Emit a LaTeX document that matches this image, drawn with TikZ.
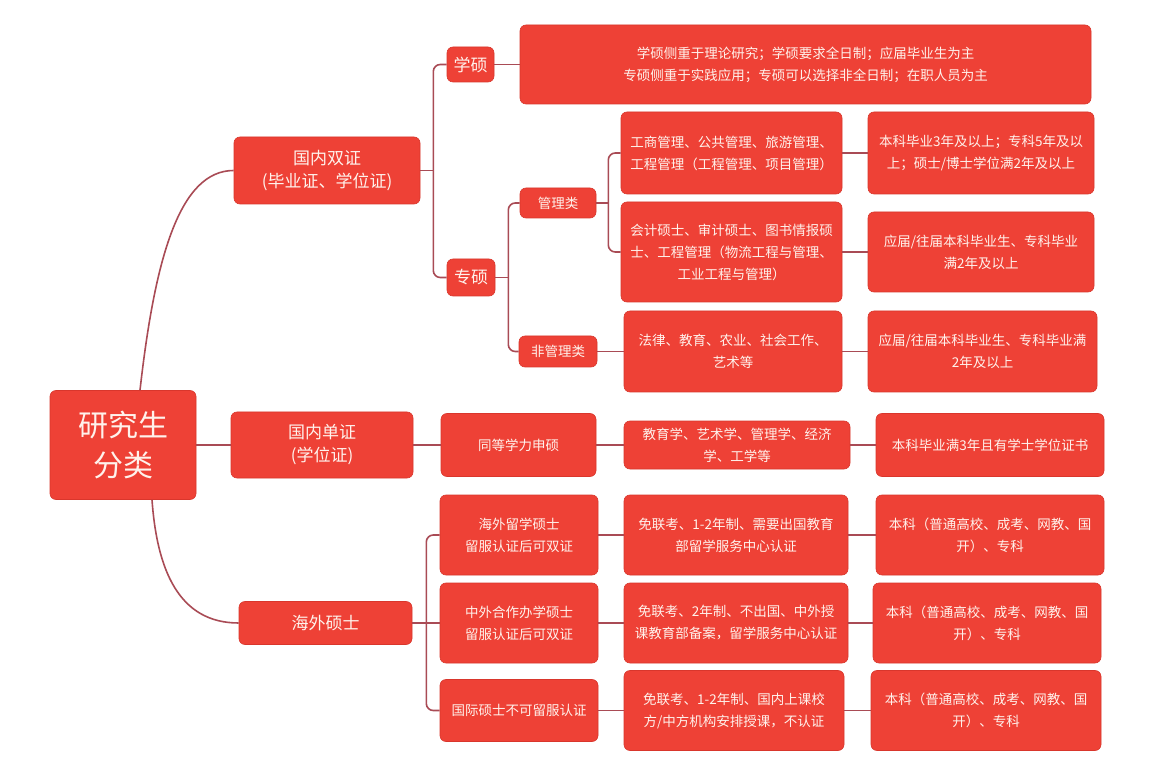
\documentclass[tikz,border=0pt]{standalone}
\usepackage{fontspec}
\newfontfamily\cjk{Noto Sans CJK SC}
\usetikzlibrary{positioning}

\definecolor{boxred}{HTML}{EE4136}
\definecolor{boxedge}{HTML}{D9362C}
\definecolor{linkred}{HTML}{A94B55}
\definecolor{txtwhite}{HTML}{FFF2EC}

\begin{document}
\begin{tikzpicture}[
  x=1pt, y=-1pt,
  font=\cjk\fontsize{13.5}{22}\selectfont,
  box/.style={draw=boxedge, fill=boxred, text=txtwhite, rectangle, rounded corners=6pt, inner sep=0pt, line width=0.6pt, align=center},
  rootbox/.style={box, font=\cjk\fontsize{30}{40}\selectfont, minimum width=146pt, minimum height=109pt},
  mainbox/.style={box, font=\cjk\fontsize{17}{23}\selectfont},
  link/.style={draw=linkred, line width=1.6pt, rounded corners=7pt}
]
  \useasboundingbox[fill=white] (0,0) rectangle (1152,759);

  % Raiz y ramas principales
  \node[rootbox] (root) at (123,445) {研究生\\分类};
  \node[mainbox, minimum width=186pt, minimum height=67pt] (dual) at (327,170.5) {国内双证\\(毕业证、学位证)};
  \node[mainbox, minimum width=182pt, minimum height=66pt] (single) at (322,445) {国内单证\\(学位证)};
  \node[mainbox, minimum width=173pt, minimum height=43pt] (overseas) at (325.5,623) {海外硕士};

  % Rama de doble certificado
  \node[mainbox, minimum width=47pt, minimum height=35pt] (xs) at (470.5,64.5) {学硕};
  \node[mainbox, minimum width=48pt, minimum height=37pt] (zs) at (471,277.5) {专硕};
  \node[box, minimum width=571pt, minimum height=79pt] (xsnote) at (805.5,64.5) {学硕侧重于理论研究；学硕要求全日制；应届毕业生为主\\专硕侧重于实践应用；专硕可以选择非全日制；在职人员为主};
  \node[box, minimum width=76pt, minimum height=30pt] (mgmt) at (558,203) {管理类};
  \node[box, minimum width=78pt, minimum height=31pt] (nonmgmt) at (558,351.5) {非管理类};
  \node[box, minimum width=221pt, minimum height=82pt] (m1) at (731.5,153) {工商管理、公共管理、旅游管理、\\工程管理（工程管理、项目管理）};
  \node[box, minimum width=226pt, minimum height=82pt] (m1r) at (981,153) {本科毕业3年及以上；专科5年及以\\上；硕士/博士学位满2年及以上};
  \node[box, minimum width=221pt, minimum height=100pt] (m2) at (731.5,252) {会计硕士、审计硕士、图书情报硕\\士、工程管理（物流工程与管理、\\工业工程与管理）};
  \node[box, minimum width=226pt, minimum height=80pt] (m2r) at (981,252) {应届/往届本科毕业生、专科毕业\\满2年及以上};
  \node[box, minimum width=218pt, minimum height=81pt] (n1) at (733,351.5) {法律、教育、农业、社会工作、\\艺术等};
  \node[box, minimum width=229pt, minimum height=81pt] (n1r) at (982.5,351.5) {应届/往届本科毕业生、专科毕业满\\2年及以上};

  % Rama de certificado unico
  \node[box, minimum width=155pt, minimum height=63pt] (tdxl) at (518.5,445) {同等学力申硕};
  \node[box, minimum width=226pt, minimum height=48pt] (s1) at (737,445) {教育学、艺术学、管理学、经济\\学、工学等};
  \node[box, minimum width=228pt, minimum height=63pt] (s1r) at (990,445) {本科毕业满3年且有学士学位证书};

  % Rama de maestrias en el extranjero
  \node[box, minimum width=158pt, minimum height=80pt] (o1) at (519,535) {海外留学硕士\\留服认证后可双证};
  \node[box, minimum width=224pt, minimum height=80pt] (o1m) at (736,535) {免联考、1-2年制、需要出国教育\\部留学服务中心认证};
  \node[box, minimum width=228pt, minimum height=80pt] (o1r) at (990,535) {本科（普通高校、成考、网教、国\\开）、专科};
  \node[box, minimum width=158pt, minimum height=80pt] (o2) at (519,623) {中外合作办学硕士\\留服认证后可双证};
  \node[box, minimum width=224pt, minimum height=80pt] (o2m) at (736,623) {免联考、2年制、不出国、中外授\\课教育部备案，留学服务中心认证};
  \node[box, minimum width=228pt, minimum height=80pt] (o2r) at (987,623) {本科（普通高校、成考、网教、国\\开）、专科};
  \node[box, minimum width=158pt, minimum height=62pt] (o3) at (519,710.5) {国际硕士不可留服认证};
  \node[box, minimum width=220pt, minimum height=80pt] (o3m) at (734,710.5) {免联考、1-2年制、国内上课校\\方/中方机构安排授课，不认证};
  \node[box, minimum width=230pt, minimum height=80pt] (o3r) at (986,710.5) {本科（普通高校、成考、网教、国\\开）、专科};

  % Puntos de bifurcacion
  \coordinate (dualfork) at ([xshift=13pt]dual.east);
  \coordinate (zsfork) at ([xshift=13pt]zs.east);
  \coordinate (mgfork) at ([xshift=12pt]mgmt.east);
  \coordinate (osfork) at ([xshift=14pt]overseas.east);

  % Conexiones desde la raiz
  \draw[link] ([xshift=17pt]root.north) .. controls +(15,-133) and +(-54,0) .. (dual.west);
  \draw[link] (root.east) -- (single.west);
  \draw[link] ([xshift=29pt]root.south) .. controls +(5,70) and +(-60,0) .. (overseas.west);

  % Conexiones de la rama doble
  \draw[link] (dual.east) -- (dualfork);
  \draw[link] (xs.west) -| (dualfork) |- (zs.west);
  \draw[link] (xs) -- (xsnote);
  \draw[link] (zs.east) -- (zsfork);
  \draw[link] (mgmt.west) -| (zsfork) |- (nonmgmt.west);
  \draw[link] (mgmt.east) -- (mgfork);
  \draw[link] (m1.west) -| (mgfork) |- (m2.west);
  \draw[link] (m1) -- (m1r);
  \draw[link] (m2) -- (m2r);
  \draw[link] (nonmgmt) -- (n1);
  \draw[link] (n1) -- (n1r);

  % Conexiones de la rama unica
  \draw[link] (single) -- (tdxl);
  \draw[link] (tdxl) -- (s1);
  \draw[link] (s1) -- (s1r);

  % Conexiones de la rama extranjera
  \draw[link] (overseas.east) -- (osfork);
  \draw[link] (o1.west) -| (osfork) |- (o3.west);
  \draw[link] (osfork) -- (o2.west);
  \foreach \row in {o1,o2,o3} {
    \draw[link] (\row) -- (\row m);
    \draw[link] (\row m) -- (\row r);
  }

\end{tikzpicture}
\end{document}
